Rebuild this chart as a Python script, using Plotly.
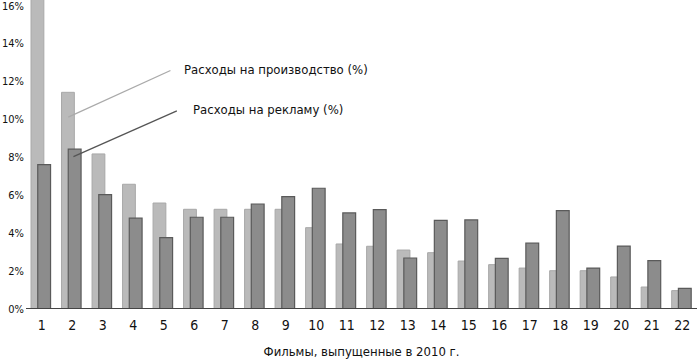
import plotly.graph_objects as go

films = list(range(1, 23))
production = [17.0, 11.43, 8.18, 6.58, 5.59, 5.26, 5.26, 5.26, 5.26, 4.29, 3.43,
              3.31, 3.11, 2.97, 2.53, 2.34, 2.16, 2.02, 2.02, 1.69, 1.16, 0.97]
advertising = [7.62, 8.43, 6.03, 4.79, 3.76, 4.84, 4.84, 5.54, 5.93, 6.37, 5.07,
               5.24, 2.69, 4.68, 4.70, 2.67, 3.47, 5.19, 2.16, 3.32, 2.55, 1.09]
y_ticks = [0, 2, 4, 6, 8, 10, 12, 14, 16]
y_tick_labels = [f"{v}%" for v in y_ticks]
label_prod = "Расходы на производство (%)"
label_adv = "Расходы на рекламу (%)"
x_title = "Фильмы, выпущенные в 2010 г."

FONT = "DejaVu Sans Condensed, Liberation Sans Narrow, sans-serif"

fig = go.Figure()
fig.add_trace(go.Bar(
    x=films, y=production, name=label_prod,
    width=0.42, offset=-0.35,
    marker=dict(color="#bababa", line=dict(color="#a8a8a8", width=1)),
))
fig.add_trace(go.Bar(
    x=films, y=advertising, name=label_adv,
    width=0.42, offset=-0.13,
    marker=dict(color="#8c8c8c", line=dict(color="#5a5a5a", width=1.2)),
))

fig.add_shape(type="line", xref="x", yref="y", x0=1.87, y0=10.12, x1=5.22, y1=12.58,
              line=dict(color="#aaaaaa", width=1.3))
fig.add_shape(type="line", xref="x", yref="y", x0=2.04, y0=8.04, x1=5.43, y1=10.45,
              line=dict(color="#555555", width=1.3))

fig.add_annotation(x=5.6, y=12.66, xref="x", yref="y", text=label_prod, showarrow=False,
                   xanchor="left", yanchor="middle",
                   font=dict(family=FONT, size=13, color="#111"))
fig.add_annotation(x=5.9, y=10.5, xref="x", yref="y", text=label_adv, showarrow=False,
                   xanchor="left", yanchor="middle",
                   font=dict(family=FONT, size=13, color="#111"))

fig.update_layout(
    width=697, height=361,
    margin=dict(l=26, r=0, t=0, b=52),
    barmode="overlay",
    showlegend=False,
    plot_bgcolor="white", paper_bgcolor="white",
    font=dict(family=FONT, size=12, color="#111"),
    xaxis=dict(range=[0.485, 22.48], tickmode="array", tickvals=films,
               ticktext=[str(f) for f in films], showgrid=False, zeroline=False,
               showline=False, ticks="", automargin=False, ticklabelstandoff=6,
               tickfont=dict(size=14, family=FONT),
               title=dict(text=x_title, font=dict(size=13, family=FONT), standoff=14)),
    yaxis=dict(range=[0, 16.3], tickmode="array", tickvals=y_ticks, ticktext=y_tick_labels,
               showgrid=False, zeroline=False, showline=False, ticks="", automargin=False,
               ticklabeloverflow="allow",
               tickfont=dict(size=11, family=FONT), ticklabelstandoff=1),
)
fig.add_shape(type="line", xref="paper", yref="y", x0=0, x1=1, y0=0, y1=0,
              line=dict(color="#444444", width=2))

fig.write_html("out.html", config={"displayModeBar": False},
               post_script="document.body.style.margin='0';document.body.style.padding='0';")
